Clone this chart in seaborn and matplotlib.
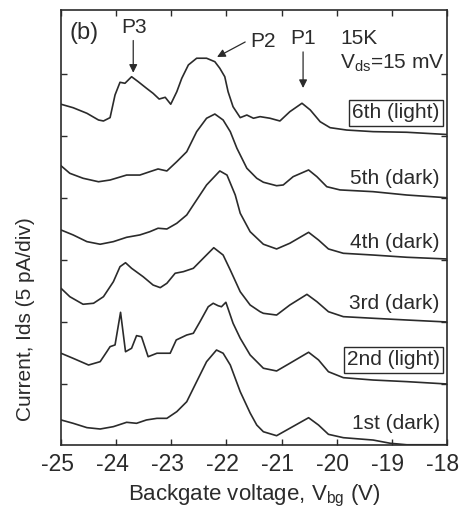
import numpy as np
import pandas as pd
import matplotlib
matplotlib.use("Agg")
import matplotlib.pyplot as plt
from matplotlib.transforms import ScaledTranslation
import seaborn as sns

# ---------------- data (Vbg in V, current relative to trace baseline in pA) ----------------
curve_names = ["1st (dark)", "2nd (light)", "3rd (dark)", "4th (dark)", "5th (dark)", "6th (light)"]
boxed = [False, True, False, False, False, True]
offsets_pA = [0, 5, 10, 15, 20, 25]

v1 = [-25.0, -24.78, -24.53, -24.29, -24.05, -23.81, -23.63, -23.45, -23.26, -23.08, -22.90, -22.72, -22.54,
      -22.36, -22.18, -22.06, -21.93, -21.75, -21.57, -21.45, -21.33, -21.09, -20.85, -20.51, -20.33, -20.15,
      -19.88, -19.34, -19.03, -18.73, -18.0]
i1 = [2.10, 1.83, 1.48, 1.37, 1.56, 1.91, 1.83, 2.10, 2.23, 2.23, 2.77, 3.57, 5.19,
      6.80, 7.74, 7.48, 6.53, 4.38, 2.66, 1.69, 1.15, 0.83, 1.43, 2.28, 1.69, 0.94,
      0.67, 0.48, 0.22, 0.10, 0.10]

v2 = [-25.0, -24.78, -24.50, -24.29, -24.17, -24.11, -24.02, -23.92, -23.83, -23.72, -23.63, -23.54, -23.42,
      -23.26, -23.02, -22.91, -22.72, -22.60, -22.48, -22.33, -22.24, -22.15, -22.09, -22.01, -21.88, -21.75,
      -21.57, -21.33, -21.09, -20.85, -20.51, -20.33, -20.15, -19.88, -19.34, -18.73, -18.0]
i2 = [2.48, 2.07, 1.53, 1.80, 2.60, 3.01, 3.15, 5.78, 2.60, 2.88, 3.90, 3.81, 2.20,
      2.48, 2.48, 3.55, 3.95, 4.09, 5.02, 6.23, 6.51, 6.31, 6.23, 6.59, 4.90, 3.69,
      2.34, 1.27, 1.05, 1.67, 2.56, 1.94, 0.99, 0.51, 0.32, 0.19, 0.0]

v3 = [-25.0, -24.84, -24.60, -24.41, -24.23, -24.05, -23.93, -23.83, -23.72, -23.51, -23.33, -23.20, -23.08,
      -22.93, -22.78, -22.60, -22.42, -22.23, -22.06, -21.93, -21.75, -21.57, -21.39, -21.33, -21.09, -20.85,
      -20.54, -20.36, -20.15, -19.88, -19.34, -18.73, -18.0]
i3 = [2.72, 2.04, 1.43, 1.51, 2.04, 3.25, 4.46, 4.78, 4.33, 3.65, 2.98, 2.77, 3.12,
      3.93, 4.06, 4.33, 5.14, 5.99, 5.40, 4.19, 2.44, 1.37, 0.83, 0.70, 0.56, 1.37,
      2.23, 1.64, 0.83, 0.43, 0.30, 0.16, 0.0]

v4 = [-25.0, -24.78, -24.53, -24.29, -24.05, -23.81, -23.57, -23.39, -23.24, -23.08, -22.90, -22.72, -22.60,
      -22.36, -22.12, -21.99, -21.84, -21.75, -21.57, -21.33, -21.09, -20.85, -20.51, -20.33, -20.15, -19.88,
      -19.34, -18.73, -18.0]
i4 = [2.42, 2.02, 1.48, 1.27, 1.48, 1.83, 2.02, 2.28, 2.56, 2.50, 2.96, 3.63, 4.44,
      6.05, 7.18, 6.85, 5.24, 3.77, 2.28, 1.27, 0.89, 1.35, 2.23, 1.61, 0.89, 0.54,
      0.40, 0.22, 0.08]

v5 = [-25.0, -24.84, -24.60, -24.32, -24.11, -23.81, -23.57, -23.39, -23.24, -23.08, -22.90, -22.72, -22.54,
      -22.36, -22.21, -22.06, -21.93, -21.81, -21.63, -21.45, -21.33, -21.09, -20.97, -20.79, -20.51, -20.36,
      -20.18, -19.94, -19.34, -18.73, -18.0]
i5 = [2.60, 1.99, 1.59, 1.31, 1.45, 1.85, 1.85, 2.12, 2.34, 2.18, 2.93, 3.73, 5.35,
      6.43, 6.77, 6.29, 5.35, 4.01, 2.40, 1.59, 1.27, 0.99, 1.05, 1.72, 2.26, 1.72,
      0.91, 0.65, 0.51, 0.24, 0.02]

v6 = [-25.0, -24.78, -24.53, -24.32, -24.23, -24.11, -24.02, -23.93, -23.84, -23.72, -23.60, -23.45, -23.33,
      -23.22, -23.11, -23.01, -22.90, -22.81, -22.69, -22.54, -22.36, -22.21, -22.12, -22.03, -21.97, -21.88,
      -21.75, -21.63, -21.51, -21.39, -21.21, -21.03, -20.85, -20.63, -20.48, -20.30, -20.12, -19.82, -19.34,
      -18.73, -18.0]
i6 = [2.56, 2.28, 1.83, 1.29, 1.21, 1.48, 3.31, 4.33, 4.25, 4.78, 4.38, 3.85, 3.44,
      2.98, 3.12, 2.56, 3.57, 4.65, 5.73, 6.27, 6.27, 5.99, 5.46, 4.78, 3.57, 2.36,
      1.48, 1.69, 1.43, 1.56, 1.43, 1.21, 1.96, 2.64, 2.10, 1.15, 0.67, 0.48, 0.35,
      0.30, 0.12]

xticks = [-25, -24, -23, -22, -21, -20, -19, -18]
yticks = [5, 10, 15, 20, 25, 30]

# ---------------- build long-form table ----------------
vs = [v1, v2, v3, v4, v5, v6]
cs = [i1, i2, i3, i4, i5, i6]
frames = []
for name, off, v, c in zip(curve_names, offsets_pA, vs, cs):
    frames.append(pd.DataFrame({"V": v, "I": np.array(c) + off, "curve": name}))
df = pd.concat(frames, ignore_index=True)

# ---------------- style ----------------
sns.set_style("ticks")
plt.rcParams["font.family"] = ["Liberation Sans", "DejaVu Sans"]
plt.rcParams["mathtext.fontset"] = "custom"
plt.rcParams["mathtext.rm"] = "Liberation Sans"

fig = plt.figure(figsize=(4.70, 5.15), dpi=100)
ax = fig.add_axes([61 / 470, 1 - 445 / 515, (447 - 61) / 470, (445 - 10) / 515])

ink = "#2b2b2b"
sns.lineplot(data=df, x="V", y="I", units="curve", estimator=None, sort=False,
             color=ink, linewidth=1.2, ax=ax, legend=False)
for ln in ax.lines:
    ln.set_solid_joinstyle("round")

ax.set_xlim(-25, -18)
ax.set_ylim(0.08, 35.16)
ax.set_xticks(xticks)
ax.set_xticklabels([str(t) for t in xticks])
ax.set_yticks(yticks)
ax.set_yticklabels([])
ax.tick_params(direction="in", length=4, width=1, top=True, right=True,
               labelsize=16.5, colors=ink, pad=6)
for lbl in ax.get_xticklabels():
    lbl.set_transform(lbl.get_transform() + ScaledTranslation(-4 / 100, 0, fig.dpi_scale_trans))
for s in ax.spines.values():
    s.set_linewidth(1.2)
    s.set_color(ink)

ax.set_xlabel(r"Backgate voltage, V$_\mathregular{bg}$ (V)", fontsize=16, color=ink, labelpad=5)
ax.set_ylabel("Current, Ids (5 pA/div)", fontsize=15, color=ink)
ax.yaxis.set_label_coords(-0.068, 0.29)

# curve labels
label_y = [1.85, 6.94, 11.53, 16.45, 21.61, 26.86]
for name, yy, b in zip(curve_names, label_y, boxed):
    kw = {}
    if b:
        kw["bbox"] = dict(boxstyle="square,pad=0.15", fc="white", ec=ink, lw=1.0)
    ax.text(-18.13, yy, name, ha="right", va="center", fontsize=15, color=ink, **kw)

# peak annotations
arrow = dict(arrowstyle="-|>", color=ink, lw=0.9, mutation_scale=12, shrinkA=0, shrinkB=0)
ax.text(-23.68, 33.71, "P3", ha="center", va="center", fontsize=15, color=ink)
ax.annotate("", xy=(-23.69, 30.1), xytext=(-23.69, 32.7), arrowprops=arrow)
ax.text(-21.34, 32.58, "P2", ha="center", va="center", fontsize=15, color=ink)
ax.annotate("", xy=(-22.17, 31.37), xytext=(-21.66, 32.58), arrowprops=arrow)
ax.text(-20.61, 32.9, "P1", ha="center", va="center", fontsize=15, color=ink)
ax.annotate("", xy=(-20.61, 28.87), xytext=(-20.61, 31.78), arrowprops=arrow)
ax.text(-24.58, 33.3, "(b)", ha="center", va="center", fontsize=17, color=ink)
ax.text(-19.94, 32.9, "15K", ha="left", va="center", fontsize=15, color=ink)
ax.text(-19.94, 30.89, r"V$_\mathregular{ds}$=15 mV", ha="left", va="center", fontsize=15, color=ink)

fig.savefig("out.png", dpi=100, facecolor="white")
